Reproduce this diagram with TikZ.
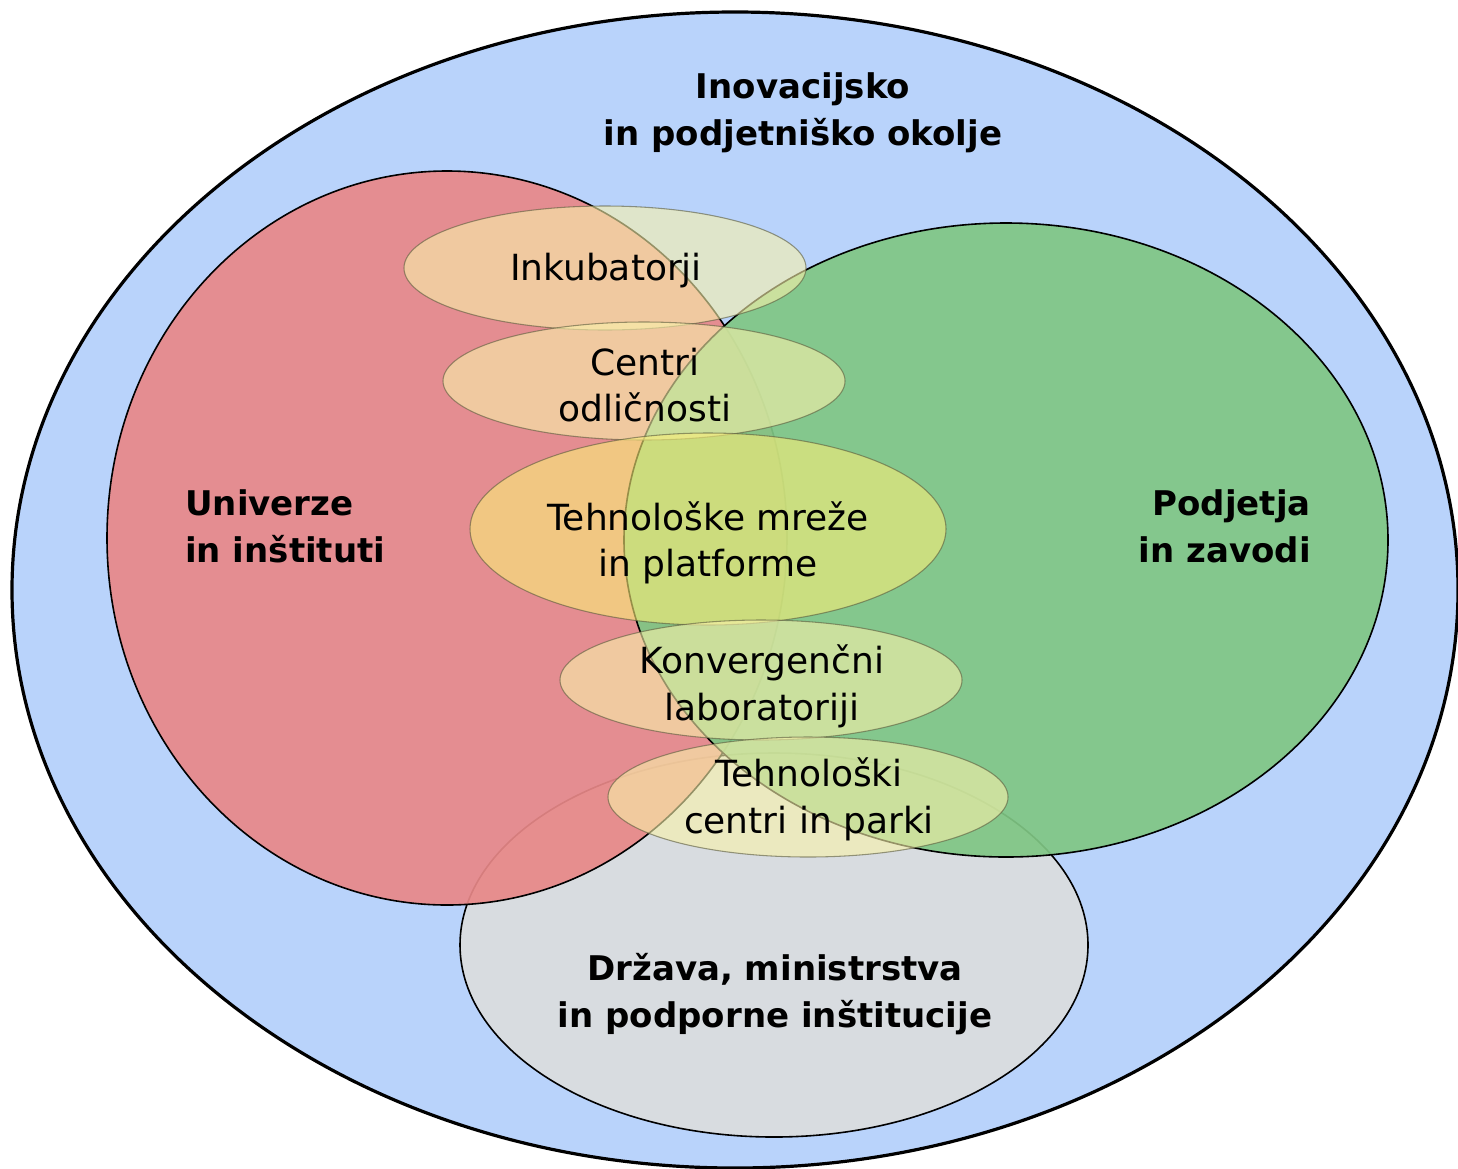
\documentclass[tikz,border=0pt]{standalone}
\usepackage{fontspec}
\setmainfont{DejaVu Sans}
\usepackage{tikz}

\definecolor{okolje}{RGB}{185,211,251}
\definecolor{univ}{RGB}{232,136,136}
\definecolor{podj}{RGB}{128,198,132}
\definecolor{drzava}{RGB}{216,220,224}
\definecolor{blob}{RGB}{249,242,170}
\definecolor{blobmid}{RGB}{250,238,120}
\definecolor{blobline}{RGB}{90,90,60}

\begin{document}
\begin{tikzpicture}[x=0.75pt,y=0.75pt,yscale=-1,xscale=1,
  bigtxt/.style={font=\fontsize{25.5}{35}\selectfont\bfseries, inner sep=0.75pt},
  smalltxt/.style={font=\fontsize{27}{35}\selectfont, inner sep=0.75pt, align=center},
  bubble/.style={draw=blobline, draw opacity=0.6, line width=0.8pt, fill=blob, fill opacity=0.6}]
\useasboundingbox (0,0) rectangle (1458,1168);

% Outer ellipse
\draw [line width=2.4pt, fill=okolje] (735,590) ellipse [x radius=723, y radius=578];
% State ellipse
\draw [line width=1.2pt, fill=drzava] (774,945) ellipse [x radius=314, y radius=192];
% Universities ellipse
\draw [line width=1.2pt, fill=univ, fill opacity=0.92] (447,538) ellipse [x radius=340, y radius=367];
% Companies ellipse
\draw [line width=1.2pt, fill=podj, fill opacity=0.92] (1006,540) ellipse [x radius=382, y radius=317];

% Bubbles
\draw [bubble] (605,268) ellipse [x radius=201, y radius=62];
\draw [bubble] (644,381) ellipse [x radius=201, y radius=59];
\draw [bubble, fill=blobmid] (708,529) ellipse [x radius=238, y radius=96];
\draw [bubble] (761,680) ellipse [x radius=201, y radius=60];
\draw [bubble] (808,797) ellipse [x radius=200, y radius=60];

% Text Node
\node (okolje) [bigtxt, align=center] at (803,113) {Inovacijsko\\in podjetniško okolje};
% Text Node
\node (univerze) [bigtxt, align=left, anchor=west] at (184,526) {Univerze\\in inštituti};
% Text Node
\node (podjetja) [bigtxt, align=right, anchor=east] at (1312,526) {Podjetja\\in zavodi};
% Text Node
\node (drzava) [bigtxt, align=center] at (775,994) {Država, ministrstva\\in podporne inštitucije};
% Text Node
\node (inkubatorji) [smalltxt] at (606,271) {Inkubatorji};
% Text Node
\node (centri) [smalltxt] at (645,385) {Centri\\odličnosti};
% Text Node
\node (mreze) [smalltxt] at (708,543) {Tehnološke mreže\\in platforme};
% Text Node
\node (konvergencni) [smalltxt] at (762,686) {Konvergenčni\\laboratoriji};
% Text Node
\node (parki) [smalltxt] at (809,799) {Tehnološki\\centri in parki};

\end{tikzpicture}
\end{document}
